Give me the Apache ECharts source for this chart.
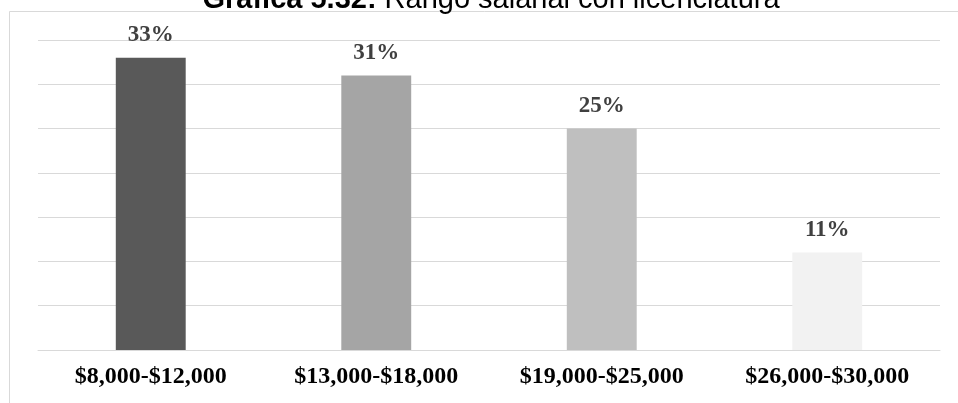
<!DOCTYPE html>
<html>
<head>
<meta charset="utf-8">
<script src="https://cdn.jsdelivr.net/npm/echarts@6/dist/echarts.min.js"></script>
<style>html,body{margin:0;padding:0;background:#fff;}#c{width:958px;height:403px;}</style>
</head>
<body>
<div id="c"></div>
<script>
const categories = ['$8,000-$12,000', '$13,000-$18,000', '$19,000-$25,000', '$26,000-$30,000'];
const values = [33, 31, 25, 11];
const barColors = ['#595959', '#a5a5a5', '#bfbfbf', '#f2f2f2'];
const titleBold = 'Gráfica 5.32:';
const titleRest = ' Rango salarial con licenciatura';

const chart = echarts.init(document.getElementById('c'), null, {renderer: 'canvas'});
chart.setOption({
  animation: false,
  backgroundColor: '#ffffff',
  graphic: [
    {
      type: 'rect', silent: true, z: -1,
      shape: {x: 9.5, y: 11.5, width: 1000, height: 500},
      style: {fill: 'none', stroke: '#d9d9d9', lineWidth: 1}
    },
    {
      type: 'text', silent: true,
      x: 491, y: 14,
      style: {
        text: '{b|' + titleBold + '}{r|' + titleRest + '}',
        align: 'center', verticalAlign: 'bottom',
        rich: {
          b: {fontFamily: 'Liberation Sans, Arial', fontWeight: 'bold', fontSize: 29, fill: '#000', lineHeight: 29},
          r: {fontFamily: 'Liberation Sans, Arial', fontWeight: 'normal', fontSize: 29, fill: '#000', lineHeight: 29}
        }
      }
    }
  ],
  grid: {left: 38, right: 18, top: 40, bottom: 53, containLabel: false},
  xAxis: {
    type: 'category',
    data: categories,
    axisLine: {show: true, lineStyle: {color: '#d9d9d9', width: 1}},
    axisTick: {show: false},
    axisLabel: {
      margin: 15,
      fontFamily: 'Liberation Serif, Times New Roman',
      fontWeight: 'bold', fontSize: 24, color: '#000'
    }
  },
  yAxis: {
    type: 'value', min: 0, max: 35, interval: 5,
    axisLine: {show: false}, axisTick: {show: false},
    axisLabel: {show: false},
    splitLine: {show: true, lineStyle: {color: '#d9d9d9', width: 1}}
  },
  series: [{
    type: 'bar',
    barWidth: '31%',
    data: values.map((v, i) => ({value: v, itemStyle: {color: barColors[i]}})),
    label: {
      show: true, position: 'top', distance: 11,
      formatter: p => p.value + '%',
      fontFamily: 'Liberation Serif, Times New Roman',
      fontWeight: 'bold', fontSize: 23, color: '#404040'
    }
  }]
});
</script>
</body>
</html>
